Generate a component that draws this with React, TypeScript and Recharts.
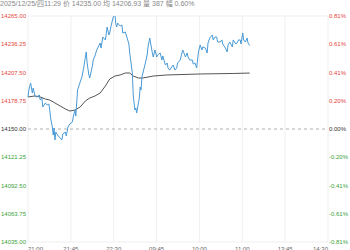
import React from 'react';
import { LineChart, Line, XAxis, YAxis, CartesianGrid, ReferenceLine } from 'recharts';

const titleText = '2025/12/25/四11:29 价 14235.00 均 14206.93 量 387 幅 0.60%';
const preClose = 14150;
const yTicks = [14035, 14063.75, 14092.5, 14121.25, 14150, 14178.75, 14207.5, 14236.25, 14265];
const xTickMinutes = [0, 49.29, 98.57, 147.86, 197.14, 246.43, 295.71, 345];
const xTickLabels = ['21:00', '21:45', '22:30', '09:45', '10:00', '11:00', '13:45', '14:30'];

const priceMinutes = [0, 1, 3, 5, 6, 8, 10, 13, 14, 16, 17, 20, 22, 24, 25, 26, 28, 29, 30, 31, 32, 34, 37, 39, 40, 43, 44, 46, 48, 51, 52, 54, 55, 57, 60, 62, 64, 66, 67, 68, 70, 71, 74, 75, 77, 79, 83, 84, 86, 89, 91, 93, 94, 95, 98, 100, 101, 102, 103, 106, 108, 109, 112, 114, 116, 117, 120, 121, 122, 123, 124, 125, 127, 128, 129, 130, 131, 135, 137, 138, 140, 143, 144, 146, 148, 149, 152, 154, 155, 158, 160, 161, 163, 166, 167, 169, 171, 172, 175, 177, 178, 181, 183, 184, 186, 189, 190, 192, 194, 196, 198, 200, 201, 204, 206, 207, 209, 212, 213, 215, 217, 218, 221, 223, 224, 227, 229, 230, 232, 235, 236, 239, 241, 242, 244, 245, 246, 247, 248, 250, 252, 253, 255];
const priceValues = [14182.6, 14189.7, 14196.8, 14186.6, 14191.7, 14183.6, 14182.6, 14184.6, 14179.5, 14181.5, 14172.4, 14176.5, 14174.4, 14175.4, 14169.3, 14161.2, 14152.0, 14143.9, 14151.0, 14138.8, 14146.9, 14143.9, 14140.8, 14138.8, 14144.9, 14146.9, 14142.9, 14152.0, 14155.1, 14157.1, 14162.2, 14169.3, 14163.2, 14189.7, 14197.8, 14202.9, 14212.1, 14223.3, 14228.4, 14217.2, 14205.0, 14201.9, 14214.1, 14220.2, 14224.3, 14230.4, 14237.5, 14232.4, 14243.6, 14240.6, 14253.8, 14245.7, 14247.7, 14252.8, 14264.0, 14266.0, 14256.9, 14253.8, 14257.9, 14254.8, 14255.8, 14247.7, 14248.7, 14242.6, 14236.5, 14227.3, 14207.0, 14184.6, 14176.5, 14169.3, 14171.4, 14166.3, 14176.5, 14181.5, 14192.7, 14189.7, 14202.9, 14217.2, 14225.3, 14233.5, 14242.6, 14227.3, 14223.3, 14230.4, 14223.3, 14225.3, 14227.3, 14220.2, 14224.3, 14215.1, 14217.2, 14212.1, 14210.0, 14214.1, 14215.1, 14210.0, 14212.1, 14217.2, 14220.2, 14227.3, 14230.4, 14223.3, 14227.3, 14223.3, 14220.2, 14220.2, 14216.1, 14217.2, 14212.1, 14228.4, 14235.5, 14230.4, 14233.5, 14232.4, 14227.3, 14237.5, 14242.6, 14245.7, 14240.6, 14243.6, 14243.6, 14238.5, 14238.5, 14240.6, 14236.5, 14232.4, 14228.4, 14235.5, 14238.5, 14233.5, 14240.6, 14236.5, 14238.5, 14240.6, 14240.6, 14236.5, 14242.6, 14247.7, 14240.6, 14238.5, 14242.6, 14237.5, 14235.0];

const avgMinutes = [0, 8, 14, 20, 25, 31, 37, 43, 48, 54, 60, 66, 71, 77, 83, 89, 94, 100, 106, 112, 117, 121, 127, 132, 138, 144, 160, 198, 236, 255];
const avgValues = [14182.6, 14183.6, 14182.6, 14180.5, 14179.5, 14176.5, 14173.4, 14170.4, 14168.3, 14169.3, 14172.4, 14178.5, 14181.5, 14183.6, 14186.6, 14193.8, 14200.9, 14203.9, 14205.0, 14207.0, 14207.0, 14203.9, 14201.9, 14201.9, 14202.9, 14203.9, 14205.0, 14206.0, 14206.5, 14206.93];

const RED = '#e5463c';
const GREEN = '#3c9f3c';
const DARK = '#333333';

function buildData() {
  const map = new Map<number, { m: number; price?: number; avg?: number }>();
  priceMinutes.forEach((m, i) => {
    const r = map.get(m) || { m };
    r.price = priceValues[i];
    map.set(m, r);
  });
  avgMinutes.forEach((m, i) => {
    const r = map.get(m) || { m };
    r.avg = avgValues[i];
    map.set(m, r);
  });
  return Array.from(map.values()).sort((a, b) => a.m - b.m);
}

const data = buildData();

function colorFor(v: number) {
  if (Math.abs(v - preClose) < 0.001) return DARK;
  return v > preClose ? RED : GREEN;
}

const LeftTick = (props: any) => {
  const { y, payload } = props;
  const v = payload.value as number;
  return (
    <text x={1} y={y} dy={2} fontSize={6} fill={colorFor(v)} textAnchor="start" fontFamily="'Liberation Sans', Arial, sans-serif">
      {v.toFixed(2)}
    </text>
  );
};

const RightTick = (props: any) => {
  const { y, payload } = props;
  const v = payload.value as number;
  const pct = ((v - preClose) / preClose) * 100;
  return (
    <text x={329} y={y} dy={2} fontSize={6} fill={colorFor(v)} textAnchor="start" fontFamily="'Liberation Sans', Arial, sans-serif">
      {pct.toFixed(2) + '%'}
    </text>
  );
};

const BottomTick = (props: any) => {
  const { x, index } = props;
  const n = xTickLabels.length;
  const anchor = index === 0 ? 'start' : index === n - 1 ? 'end' : 'middle';
  return (
    <text x={x} y={251} fontSize={6} fill="#666" textAnchor={anchor} fontFamily="'Liberation Sans', Arial, sans-serif">
      {xTickLabels[index]}
    </text>
  );
};

export default function App() {
  return (
    <div style={{ position: 'absolute', left: 0, top: 0, width: 350, height: 250, background: '#fff' }}>
      <LineChart width={350} height={250} data={data} margin={{ top: 16, right: 0, bottom: 0, left: 0 }}>
        <CartesianGrid stroke="#efefef" strokeWidth={1} />
        <XAxis
          dataKey="m"
          type="number"
          domain={[0, 345]}
          ticks={xTickMinutes}
          height={8}
          axisLine={false}
          tickLine={false}
          interval={0}
          tick={<BottomTick />}
        />
        <YAxis
          yAxisId="l"
          type="number"
          domain={[14035, 14265]}
          ticks={yTicks}
          width={28}
          axisLine={false}
          tickLine={false}
          interval={0}
          allowDataOverflow
          tick={<LeftTick />}
        />
        <YAxis
          yAxisId="r"
          orientation="right"
          type="number"
          domain={[14035, 14265]}
          ticks={yTicks}
          width={22}
          axisLine={false}
          tickLine={false}
          interval={0}
          allowDataOverflow
          tick={<RightTick />}
        />
        <ReferenceLine yAxisId="l" y={preClose} stroke="#b0b0b0" strokeDasharray="3 3" />
        <Line yAxisId="r" type="linear" dataKey="avg" stroke="#555555" strokeWidth={1} dot={false} connectNulls isAnimationActive={false} />
        <Line yAxisId="l" type="linear" dataKey="price" stroke="#4a9ad6" strokeWidth={1} dot={false} connectNulls isAnimationActive={false} />
      </LineChart>
      <svg width={350} height={12} style={{ position: 'absolute', left: 0, top: 0 }}>
        <text x={0} y={5.5} fontSize={7} fill="#888" fontFamily="'Liberation Sans', Arial, 'Noto Sans CJK SC', sans-serif">
          {titleText}
        </text>
      </svg>
    </div>
  );
}
